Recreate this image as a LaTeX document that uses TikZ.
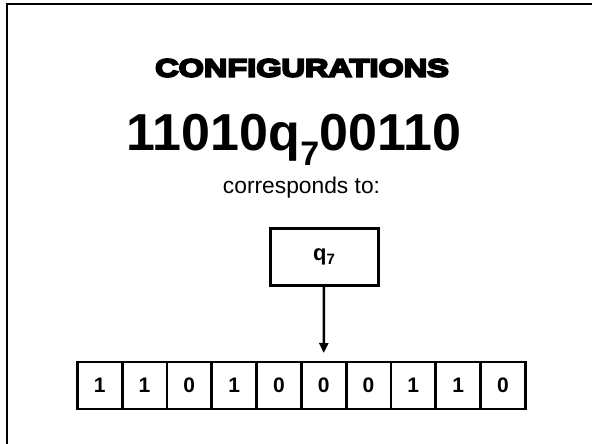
\documentclass[tikz,border=0pt]{standalone}
\usepackage{fontspec}
\setmainfont{Liberation Sans}
\newfontfamily\blackfont[FakeBold=8,FakeStretch=1.3]{Liberation Sans Bold}
\usetikzlibrary{positioning,arrows.meta}

\begin{document}
\begin{tikzpicture}[x=1pt, y=-1pt,
      cell/.style={rectangle, draw, line width=2.8pt, outer sep=0pt, inner sep=0pt,
        minimum width=44.8pt, minimum height=47pt, font=\fontsize{21}{22}\selectfont\bfseries},
      statebox/.style={rectangle, draw, line width=3pt, outer sep=0pt,
        minimum width=108pt, minimum height=57pt, font=\fontsize{22}{24}\selectfont\bfseries}]
      \useasboundingbox (0,0) rectangle (592,444);
      \clip (0,0) rectangle (592,444);
      % slide frame
      \draw[line width=2.4pt] (7,4) rectangle (700,700);
      \node (title) at (302,68) {\blackfont\fontsize{25}{27}\selectfont CONFIGURATIONS};
      \node[anchor=base] (config) at (294,150)
        {\fontsize{52}{56}\selectfont\bfseries 11010q\raisebox{-15pt}{\fontsize{34}{36}\selectfont 7}00110};
      \node[anchor=base] (note) at (301.5,193) {\fontsize{22.8}{24}\selectfont corresponds to:};
      \node[statebox] (state) at (324,256.5) {q\raisebox{-4pt}{\fontsize{15}{16}\selectfont 7}};
      % tape
      \node[cell] (c1) at (99.7,385.5) {1};
      \node[cell, right=0pt of c1] (c2) {1};
      \node[cell, right=0pt of c2] (c3) {0};
      \node[cell, right=0pt of c3] (c4) {1};
      \node[cell, right=0pt of c4] (c5) {0};
      \node[cell, right=0pt of c5] (c6) {0};
      \node[cell, right=0pt of c6] (c7) {0};
      \node[cell, right=0pt of c7] (c8) {1};
      \node[cell, right=0pt of c8] (c9) {1};
      \node[cell, right=0pt of c9] (c10) {0};
      \draw[line width=2.5pt, -{Triangle[width=9pt,length=10pt]}, shorten >=9pt] (state.south) -- (c6.north);
    \end{tikzpicture}
\end{document}
